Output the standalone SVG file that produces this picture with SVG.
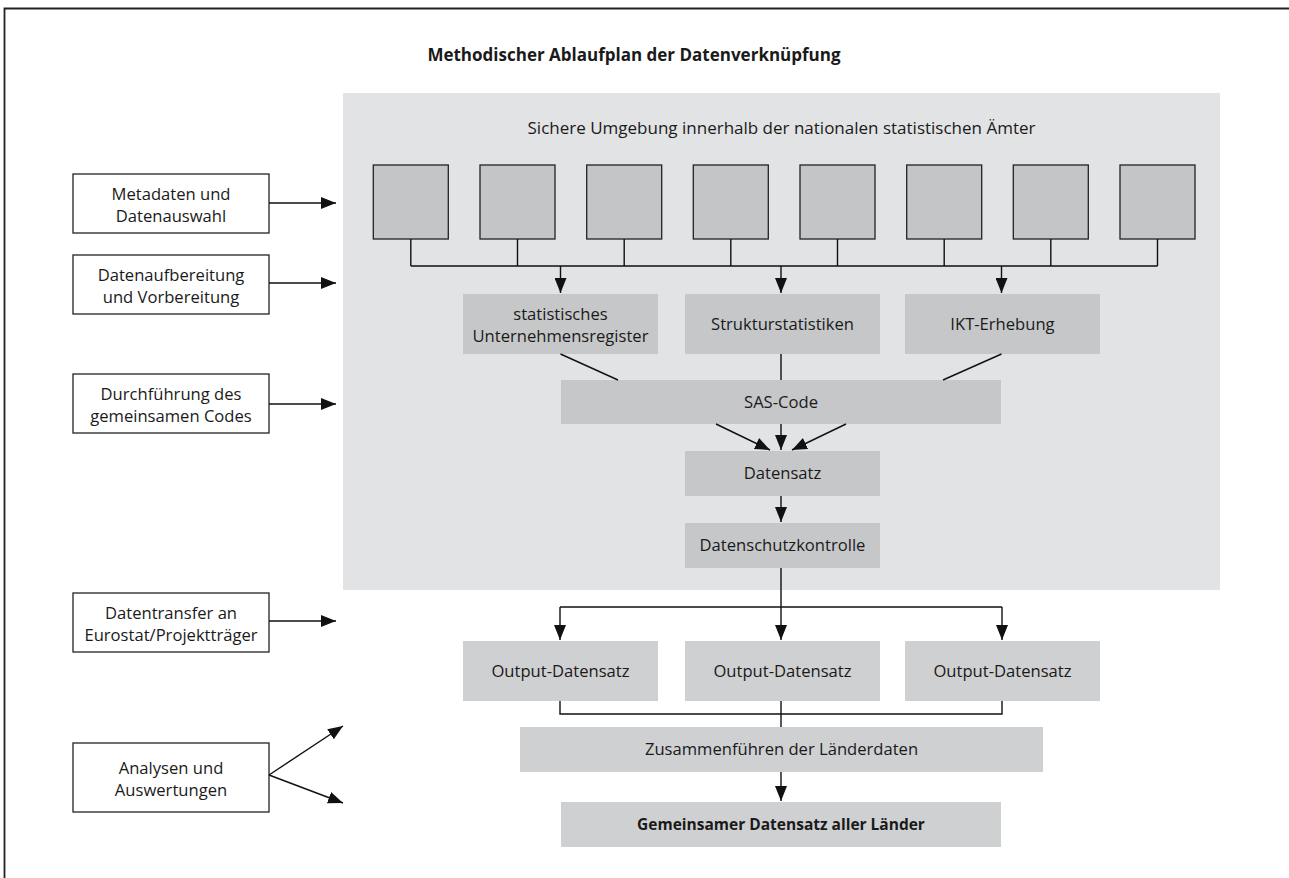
<svg xmlns="http://www.w3.org/2000/svg" width="1289" height="878" viewBox="0 0 1289 878">
<defs>
<style>
.t{font-family:"Open Sans","Liberation Sans",sans-serif;font-size:16.6px;fill:#1a1a1a;text-anchor:middle}
.b{font-weight:bold}
.lb{fill:#fff;stroke:#222;stroke-width:1.3}
.sq{fill:#c4c5c7;stroke:#222;stroke-width:1.3}
.ib{fill:#c6c7c9}
.ob{fill:#cfd0d2}
.c{fill:none;stroke:#111;stroke-width:1.4}
.a{marker-end:url(#ah)}
</style>
<marker id="ah" viewBox="0 0 15 12" refX="15" refY="6" markerWidth="15" markerHeight="12" markerUnits="userSpaceOnUse" orient="auto">
<path d="M0,0 L15,6 L0,12 z" fill="#111"/>
</marker>
</defs>
<rect width="1289" height="878" fill="#fff"/>
<path d="M4.5,878 V8.5 H1289" fill="none" stroke="#222" stroke-width="1.8"/>
<text id="title" class="t b" x="634" y="61" style="font-size:17px">Methodischer Ablaufplan der Datenverknüpfung</text>
<g id="panel">
<rect x="343" y="93" width="877" height="497" fill="#e2e3e5"/>
<text class="t" x="781.5" y="134" style="font-size:17px">Sichere Umgebung innerhalb der nationalen statistischen Ämter</text>
</g>
<g id="sources">
<rect class="sq" x="373.3" y="165" width="75" height="74"/>
<rect class="sq" x="480" y="165" width="75" height="74"/>
<rect class="sq" x="586.7" y="165" width="75" height="74"/>
<rect class="sq" x="693.3" y="165" width="75" height="74"/>
<rect class="sq" x="800" y="165" width="75" height="74"/>
<rect class="sq" x="906.7" y="165" width="75" height="74"/>
<rect class="sq" x="1013.3" y="165" width="75" height="74"/>
<rect class="sq" x="1120" y="165" width="75" height="74"/>
</g>
<g id="l1"><rect class="lb" x="73" y="174" width="196" height="59"/><text class="t" x="171" y="200">Metadaten und</text><text class="t" x="171" y="222">Datenauswahl</text></g>
<g id="l2"><rect class="lb" x="73" y="255" width="196" height="59"/><text class="t" x="171" y="281">Datenaufbereitung</text><text class="t" x="171" y="303">und Vorbereitung</text></g>
<g id="l3"><rect class="lb" x="73" y="374" width="196" height="59"/><text class="t" x="171" y="400">Durchführung des</text><text class="t" x="171" y="422">gemeinsamen Codes</text></g>
<g id="l4"><rect class="lb" x="73" y="593" width="196" height="59"/><text class="t" x="171" y="619">Datentransfer an</text><text class="t" x="171" y="641">Eurostat/Projektträger</text></g>
<g id="l5"><rect class="lb" x="73" y="743" width="196" height="69"/><text class="t" x="171" y="774">Analysen und</text><text class="t" x="171" y="796">Auswertungen</text></g>
<g id="reg"><rect class="ib" x="463" y="294" width="195" height="60"/><text class="t" x="560.5" y="320">statistisches</text><text class="t" x="560.5" y="342">Unternehmensregister</text></g>
<g id="struk"><rect class="ib" x="685" y="294" width="195" height="60"/><text class="t" x="782.5" y="330">Strukturstatistiken</text></g>
<g id="ikt"><rect class="ib" x="905" y="294" width="195" height="60"/><text class="t" x="1002.5" y="330">IKT-Erhebung</text></g>
<g id="sas"><rect class="ib" x="561" y="380" width="440" height="44"/><text class="t" x="781" y="408">SAS-Code</text></g>
<g id="ds"><rect class="ib" x="685" y="451" width="195" height="45"/><text class="t" x="782.5" y="479">Datensatz</text></g>
<g id="dsk"><rect class="ib" x="685" y="523" width="195" height="45"/><text class="t" x="782.5" y="551">Datenschutzkontrolle</text></g>
<g id="o1"><rect class="ob" x="463" y="641" width="195" height="60"/><text class="t" x="560.5" y="677">Output-Datensatz</text></g>
<g id="o2"><rect class="ob" x="685" y="641" width="195" height="60"/><text class="t" x="782.5" y="677">Output-Datensatz</text></g>
<g id="o3"><rect class="ob" x="905" y="641" width="195" height="60"/><text class="t" x="1002.5" y="677">Output-Datensatz</text></g>
<g id="merge"><rect class="ob" x="520" y="727" width="523" height="45"/><text class="t" x="781.5" y="755">Zusammenführen der Länderdaten</text></g>
<g id="all"><rect class="ob" x="561" y="802" width="440" height="45"/><text class="t b" x="781" y="830" style="font-size:15.5px">Gemeinsamer Datensatz aller Länder</text></g>
<g id="connectors">
<path class="c" d="M410.8,239 V266 M517.5,239 V266 M624.2,239 V266 M730.8,239 V266 M837.5,239 V266 M944.2,239 V266 M1050.8,239 V266 M1157.5,239 V266 M410.8,266 H1157.5"/>
<path class="c a" d="M560.5,266 V293"/>
<path class="c a" d="M781,266 V293"/>
<path class="c a" d="M1001.5,266 V293"/>
<path class="c" d="M560.5,354 L618,380 M781,354 V380 M1001.5,354 L943,380"/>
<path class="c a" d="M716,424 L770,450"/>
<path class="c a" d="M781,424 V450"/>
<path class="c a" d="M846,424 L792,450"/>
<path class="c a" d="M781,496 V522"/>
<path class="c" d="M781,568 V607 M560,607 H1002"/>
<path class="c a" d="M560,607 V640"/>
<path class="c a" d="M781,607 V640"/>
<path class="c a" d="M1002,607 V640"/>
<path class="c" d="M560,701 V714 H1002 V701 M781,701 V727"/>
<path class="c a" d="M781,772 V801"/>
<path class="c a" d="M269,203 H336"/>
<path class="c a" d="M269,283 H336"/>
<path class="c a" d="M269,404 H336"/>
<path class="c a" d="M269,621 H336"/>
<path class="c a" d="M269,775 L343,726"/>
<path class="c a" d="M269,775 L343,803"/>
</g>
</svg>
